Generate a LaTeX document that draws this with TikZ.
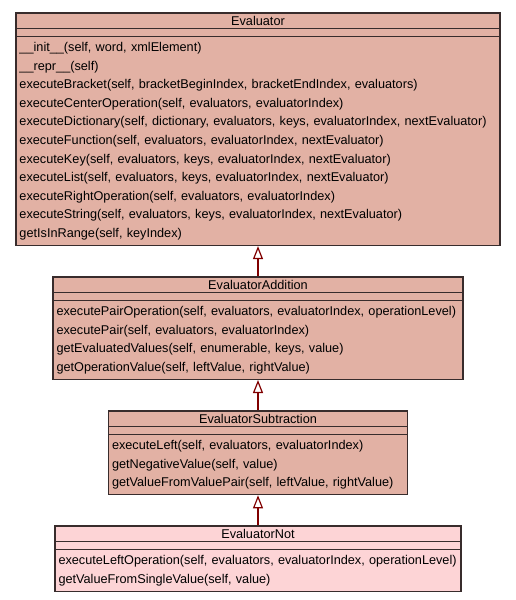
\documentclass[tikz,border=0pt]{standalone}
\usepackage{fontspec}
\setmainfont{Liberation Sans}
\usetikzlibrary{shapes.multipart,positioning,arrows.meta}
\definecolor{classfill}{RGB}{226,177,164}
\definecolor{leaffill}{RGB}{253,212,214}
\definecolor{classline}{RGB}{56,44,44}
\definecolor{inherit}{RGB}{128,0,0}

\begin{document}
\begin{tikzpicture}[
        umlclass/.style={rectangle split, rectangle split parts=3, draw=classline,
            line width=1.5pt, fill=classfill, inner xsep=3.5pt, inner ysep=1.5pt,
            align=left, font=\fontsize{12.7}{18.6}\selectfont},
        extends/.style={draw=inherit, line width=2.5pt,
            -{Triangle[open, length=13pt, width=10pt, line width=1.2pt]}}
    ]
    \useasboundingbox (0,0) rectangle (515pt,-600pt);

    % ===== base class =====
    \node[umlclass, text width=477pt, anchor=north] (evaluator) at (258pt,-12pt)
        {\hfill\rule{0pt}{10.5pt}Evaluator\rule[-0.5pt]{0pt}{0.5pt}\hfill\null
         \nodepart{two}\rule{0pt}{3.5pt}
         \nodepart{three}\strut\_\_init\_\_(self, word, xmlElement)\\
            \_\_repr\_\_(self)\\
            executeBracket(self, bracketBeginIndex, bracketEndIndex, evaluators)\\
            executeCenterOperation(self, evaluators, evaluatorIndex)\\
            executeDictionary(self, dictionary, evaluators, keys, evaluatorIndex, nextEvaluator)\\
            executeFunction(self, evaluators, evaluatorIndex, nextEvaluator)\\
            executeKey(self, evaluators, keys, evaluatorIndex, nextEvaluator)\\
            executeList(self, evaluators, keys, evaluatorIndex, nextEvaluator)\\
            executeRightOperation(self, evaluators, evaluatorIndex)\\
            executeString(self, evaluators, keys, evaluatorIndex, nextEvaluator)\\
            getIsInRange(self, keyIndex)\strut};

    % ===== subclasses =====
    \node[umlclass, text width=403pt, below=30pt of evaluator] (addition)
        {\hfill\rule{0pt}{10.5pt}EvaluatorAddition\rule[-0.5pt]{0pt}{0.5pt}\hfill\null
         \nodepart{two}\rule{0pt}{3.5pt}
         \nodepart{three}\strut executePairOperation(self, evaluators, evaluatorIndex, operationLevel)\\
            executePair(self, evaluators, evaluatorIndex)\\
            getEvaluatedValues(self, enumerable, keys, value)\\
            getOperationValue(self, leftValue, rightValue)\strut};

    \node[umlclass, text width=292pt, below=30pt of addition] (subtraction)
        {\hfill\rule{0pt}{10.5pt}EvaluatorSubtraction\rule[-0.5pt]{0pt}{0.5pt}\hfill\null
         \nodepart{two}\rule{0pt}{3.5pt}
         \nodepart{three}\strut executeLeft(self, evaluators, evaluatorIndex)\\
            getNegativeValue(self, value)\\
            getValueFromValuePair(self, leftValue, rightValue)\strut};

    \node[umlclass, fill=leaffill, text width=399pt, below=30pt of subtraction] (notclass)
        {\hfill\rule{0pt}{10.5pt}EvaluatorNot\rule[-0.5pt]{0pt}{0.5pt}\hfill\null
         \nodepart{two}\rule{0pt}{3.5pt}
         \nodepart{three}\strut executeLeftOperation(self, evaluators, evaluatorIndex, operationLevel)\\
            getValueFromSingleValue(self, value)\strut};

    % generalisation arrows
    \draw[extends] (addition.north) -- (evaluator.south);
    \draw[extends] (subtraction.north) -- (addition.south);
    \draw[extends] (notclass.north) -- (subtraction.south);
\end{tikzpicture}
\end{document}
